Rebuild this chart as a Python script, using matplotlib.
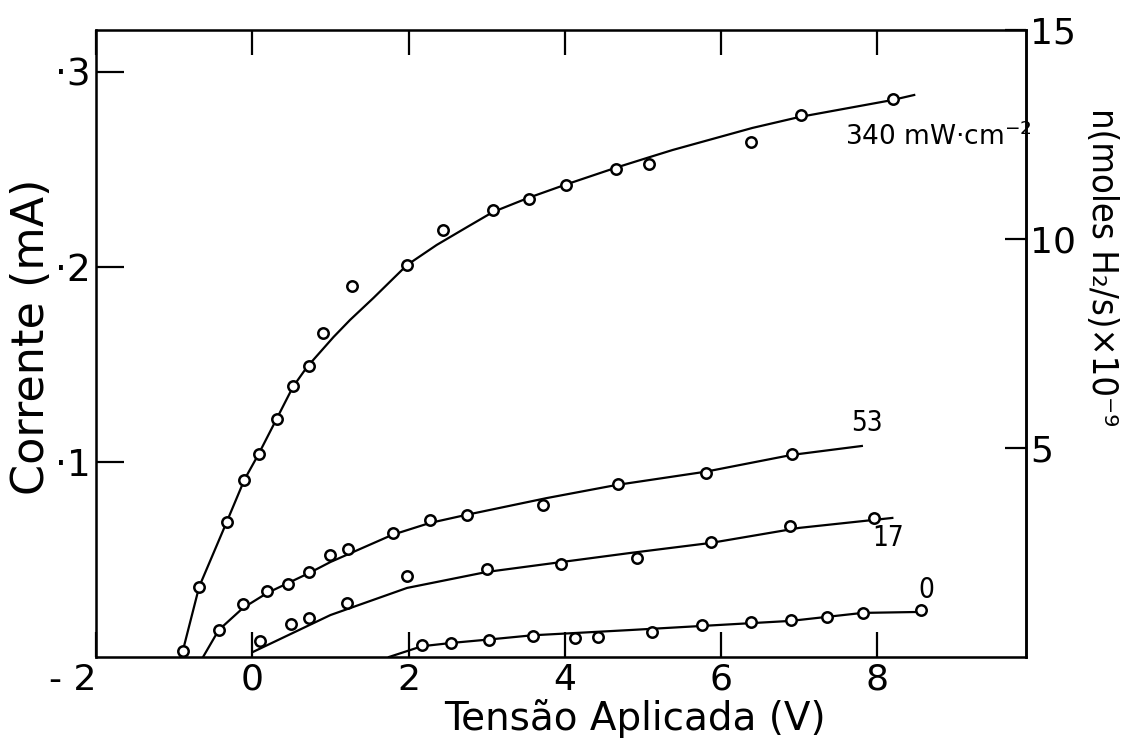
import matplotlib
matplotlib.use('Agg')
import matplotlib.pyplot as plt

# Pontos medidos (tensao em V, corrente em mA) para cada intensidade de luz
v_340 = [-0.89, -0.68, -0.33, -0.10, 0.08, 0.31, 0.52, 0.72, 0.91, 1.27,
         1.98, 2.44, 3.08, 3.54, 4.01, 4.66, 5.07, 6.38, 7.02, 8.20]
i_340 = [0.003, 0.036, 0.069, 0.091, 0.104, 0.122, 0.139, 0.149, 0.166, 0.190,
         0.201, 0.219, 0.229, 0.235, 0.242, 0.250, 0.253, 0.264, 0.278, 0.286]

v_53 = [-0.42, -0.12, 0.19, 0.46, 0.73, 1.00, 1.23, 1.80, 2.27, 2.75,
        3.72, 4.68, 5.81, 6.91]
i_53 = [0.0138, 0.0272, 0.0338, 0.0374, 0.0436, 0.0523, 0.0554, 0.0636, 0.0703, 0.0728,
        0.0779, 0.0887, 0.0944, 0.1041]

v_17 = [0.10, 0.50, 0.72, 1.21, 1.98, 3.00, 3.95, 4.92, 5.87, 6.88, 7.95]
i_17 = [0.0082, 0.0169, 0.0200, 0.0277, 0.0415, 0.0451, 0.0477, 0.0508, 0.0590, 0.0672, 0.0713]

v_0 = [2.17, 2.54, 3.03, 3.59, 4.13, 4.43, 5.12, 5.75, 6.38, 6.89, 7.35, 7.81, 8.56]
i_0 = [0.0062, 0.0072, 0.0087, 0.0108, 0.0097, 0.0103, 0.0128, 0.0164, 0.0179, 0.0190,
       0.0205, 0.0226, 0.0241]

# Curvas tracadas a mao
fit_v_340 = [-0.92, -0.89, -0.68, -0.33, -0.10, 0.08, 0.31, 0.52, 0.70, 1.04, 1.25,
             1.55, 1.98, 2.36, 2.75, 3.08, 3.53, 4.00, 4.66, 5.09, 5.38, 6.40, 7.00,
             8.19, 8.47]
fit_i_340 = [0.0, 0.003, 0.036, 0.069, 0.091, 0.104, 0.122, 0.1385, 0.1487, 0.1641, 0.1728,
             0.1841, 0.2010, 0.2113, 0.2205, 0.2282, 0.2354, 0.2421, 0.2510, 0.2564, 0.2600,
             0.2713, 0.2769, 0.2856, 0.2882]

fit_v_53 = [-0.63, -0.43, -0.12, 0.19, 0.73, 1.00, 1.79, 2.27, 2.73, 3.77, 4.66, 5.80,
            6.90, 7.80]
fit_i_53 = [0.0, 0.0138, 0.0251, 0.0328, 0.0431, 0.0487, 0.0626, 0.0687, 0.0728, 0.0815,
            0.0882, 0.0950, 0.1036, 0.1082]

fit_v_17 = [0.01, 1.00, 1.98, 3.00, 3.96, 4.83, 5.87, 7.00, 8.19]
fit_i_17 = [0.0026, 0.0215, 0.0354, 0.0436, 0.0487, 0.0533, 0.0585, 0.0662, 0.0713]

fit_v_0 = [1.75, 2.17, 2.55, 3.04, 3.58, 4.83, 5.75, 6.89, 7.81, 8.56]
fit_i_0 = [0.0, 0.0055, 0.0072, 0.0090, 0.0111, 0.0138, 0.0159, 0.0185, 0.0226, 0.0231]

# Rotulos das curvas
curve_labels = ['53', '17', '0']
label_v = [7.86, 8.13, 8.63]
label_i = [0.120, 0.061, 0.0344]

x_ticks = [-2, 0, 2, 4, 6, 8]
x_tick_labels = ['- 2', '0', '2', '4', '6', '8']
y_ticks = [0.1, 0.2, 0.3]
y_tick_labels = ['·1', '·2', '·3']
h2_ticks = [5, 10, 15]

fig = plt.figure(figsize=(11.43, 7.38), dpi=100)
ax = fig.add_axes([0.084, 0.1098, 0.8136, 0.8495])

for fv, fi in [(fit_v_340, fit_i_340), (fit_v_53, fit_i_53),
               (fit_v_17, fit_i_17), (fit_v_0, fit_i_0)]:
    ax.plot(fv, fi, color='black', lw=1.6, zorder=2)

for v, i in [(v_340, i_340), (v_53, i_53), (v_17, i_17), (v_0, i_0)]:
    ax.plot(v, i, 'o', mfc='white', mec='black', ms=7.5, mew=1.8, zorder=3)

ax.set_xlim(-2, 9.9)
ax.set_ylim(0, 0.3215)

ax.set_xticks(x_ticks)
ax.set_xticklabels(x_tick_labels)
ax.set_yticks(y_ticks)
ax.set_yticklabels(y_tick_labels)
ax.tick_params(axis='x', direction='in', length=18, width=1.6, top=True,
               labelsize=26, pad=4)
ax.tick_params(axis='y', direction='in', length=20, width=1.6, labelsize=27, pad=4)
# o "- 2" fica encostado no canto, como no original
ax.get_xticklabels()[0].set_horizontalalignment('right')
for s in ax.spines.values():
    s.set_linewidth(1.8)

# eixo da direita: producao de H2
ax2 = ax.twinx()
ax2.set_ylim(0, 15)
ax2.set_yticks(h2_ticks)
ax2.tick_params(axis='y', direction='in', length=15, width=1.6, labelsize=26, pad=3)
ax2.spines['right'].set_linewidth(1.8)

ax.set_xlabel('Tensão Aplicada (V)', fontsize=28)
ax.xaxis.set_label_coords(0.58, -0.0975)
ax.xaxis.label.set_verticalalignment('center')
ax.set_ylabel('Corrente (mA)', fontsize=32)
ax.yaxis.set_label_coords(-0.069, 0.51)
ax.yaxis.label.set_verticalalignment('center')
ax2.set_ylabel('n(moles H₂/s)×10⁻⁹', fontsize=26, rotation=-90,
               fontstretch='condensed')
ax2.yaxis.set_label_coords(1.082, 0.622)
ax2.yaxis.label.set_verticalalignment('center')

# textos nas curvas
ax.text(7.58, 0.2626, r'$\mathit{340}$ mW·cm$^{-2}$', fontsize=19, va='baseline')
for txt, lv, li in zip(curve_labels, label_v, label_i):
    ax.text(lv, li, txt, fontsize=20, ha='center', va='center', fontstretch='condensed')

plt.savefig('out.png', dpi=100)
